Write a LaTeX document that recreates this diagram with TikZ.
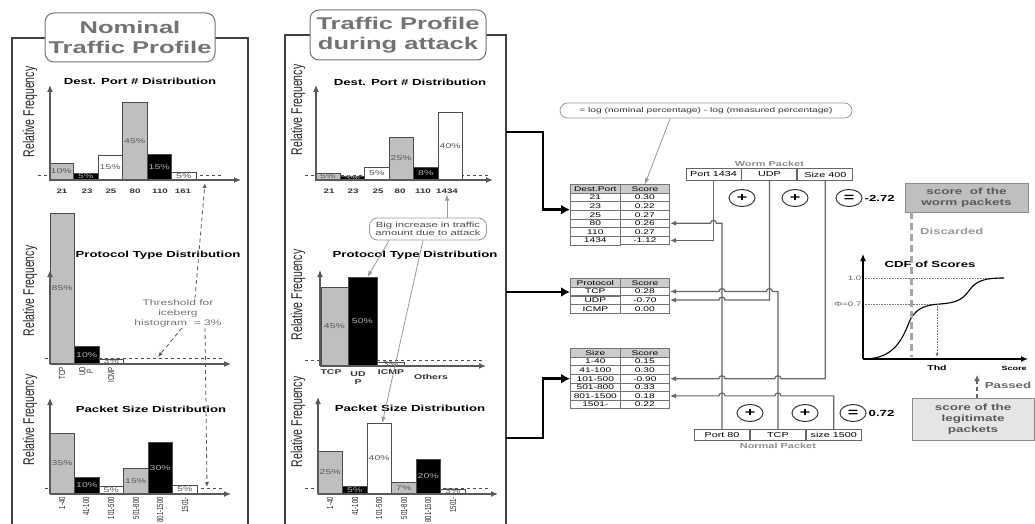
\documentclass[tikz,border=0pt]{standalone}
\usepackage{fontspec}
\setmainfont{Liberation Sans}[FakeStretch=1.5]
\newfontfamily\narrowfont{Liberation Sans}[FakeStretch=0.68]
\usetikzlibrary{arrows.meta,positioning,calc,matrix,shapes.geometric}
\newcommand\fs[1]{\fontsize{#1}{#1}\selectfont}

\begin{document}
\begin{tikzpicture}[x=1pt,y=-1pt,>=Latex,
  every node/.style={inner sep=1pt},
  frame/.style={draw=black!75,line width=1.3pt},
  titlebox/.style={draw=black!55,fill=white,rounded corners=9pt,line width=1pt,align=center,
    font=\fontsize{17}{19.5}\selectfont\bfseries,text=black!55,minimum width=170pt,minimum height=49pt},
  relfreq/.style={rotate=90,font=\narrowfont\fs{15.5},text=black!85},
  histtitle/.style={font=\fs{8.8}\bfseries},
  axis/.style={draw=black!65,line width=1.2pt,-{Latex[length=7pt,width=6pt]}},
  thline/.style={draw=black!70,dashed,line width=0.5pt},
  gbar/.style={draw=black!70,fill=black!25,line width=0.9pt},
  kbar/.style={draw=black!70,fill=black,line width=0.9pt},
  wbar/.style={draw=black!70,fill=white,line width=0.9pt},
  pct/.style={font=\fs{7},inner sep=0pt},
  tick/.style={font=\fs{6.5}\bfseries,text=black!80},
  rtick/.style={rotate=90,anchor=east,font=\narrowfont\fontsize{8.8}{7.5}\selectfont,text=black!85,inner sep=0pt,align=center},
  htick/.style={font=\fontsize{7}{8}\selectfont\bfseries,text=black!80,align=center,inner sep=0pt},
  note/.style={draw=black!40,line width=0.8pt,-{Latex[length=6pt,width=4.5pt]}},
  callout/.style={draw=black!40,line width=0.8pt,rounded corners=8pt,align=center,
    font=\fontsize{7.5}{8.5}\selectfont,text=black!70},
  thrtext/.style={align=center,font=\fontsize{8}{10}\selectfont,text=black!55},
  thrarrow/.style={draw=black!65,line width=0.8pt,dash pattern=on 4pt off 3pt,-{Latex[length=5pt,width=4pt]}},
  bigarrow/.style={draw=black,line width=2.6pt,-{Latex[length=9pt,width=10pt]}},
  tbl/.style={matrix of nodes,inner sep=0pt,column sep=-0.6pt,row sep=-0.6pt,
    nodes={draw=black!55,line width=0.6pt,minimum width=49.6pt,minimum height=8.6pt,inner sep=0pt,font=\fs{6.8}},
    row 1/.style={nodes={fill=black!20}}},
  pkt/.style={draw=black!60,line width=0.9pt,minimum width=55pt,minimum height=11.5pt,inner sep=0pt,font=\fs{7.2}},
  pktlabel/.style={font=\fs{7.3}\bfseries,text=black!45},
  op/.style={ellipse,draw=black!80,line width=1pt,minimum width=26pt,minimum height=17pt,inner sep=0pt,font=\fs{12}\bfseries},
  total/.style={font=\fs{8.8}\bfseries},
  link/.style={draw=black!60,line width=1.2pt,-{Latex[length=6pt,width=5pt]}},
  sbox/.style={draw=black!45,line width=0.8pt,align=center,font=\fontsize{9}{11}\selectfont\bfseries,text=black!65},
  cdflab/.style={font=\fs{6.5},text=black!60,inner sep=0.5pt},
  dotline/.style={draw=black!55,densely dotted,line width=0.6pt}]
\useasboundingbox (0,0) rectangle (1035,524);

% nominal profile
\draw[frame] (12,526) -- (12,38) -- (248,38) -- (248,526);
\node[titlebox] (nomtitle) at (130,37.5) {Nominal\\Traffic Profile};

\node[relfreq] (rfa) at (30,112) {Relative Frequency};
\node[histtitle] (ha) at (140,81) {Dest. Port \# Distribution};
\draw[thline] (38,175) -- (222,175);
\foreach \a/\h/\s/\c/\lab [count=\i] in {49/17/gbar/black!65/10,73.5/7/kbar/black!30/5,98/25/wbar/black!65/15,122.5/78/gbar/black!65/45,147/26/kbar/black!30/15,171.5/8/wbar/black!65/5}
  {\draw[\s] (\a,180) rectangle ++(24.5,-\h);
   \node[pct,text=\c] (pa\i) at (\a+12.25,180-\h/2) {\lab\%};}
\draw[axis] (50,180) -- (50,85);
\draw[axis] (50,180) -- (241,180);
\foreach \x/\lab [count=\i] in {62/21,87/23,111/25,135/80,160/110,183/161}
  \node[tick] (ta\i) at (\x,191) {\lab};

\node[relfreq] (rfb) at (30,291) {Relative Frequency};
\node[histtitle] (hb) at (158,255) {Protocol Type Distribution};
\draw[thline] (45,358) -- (225,358);
\foreach \a/\h/\s/\c/\lab [count=\i] in {50/151/gbar/black!65/85,74.5/18/kbar/black!30/10,99/5/wbar/black!65/3}
  {\draw[\s] (\a,364) rectangle ++(24.5,-\h);
   \node[pct,text=\c] (pb\i) at (\a+12.25,364-\h/2) {\lab\%};}
\draw[axis] (50,364) -- (50,270);
\draw[axis] (50,364) -- (231,364);
\node[rtick] (tb1) at (62,367) {TCP};
\node[rtick] (tb2) at (86,367) {UD\\P};
\node[rtick] (tb3) at (111,367) {ICMP};

\node[relfreq] (rfc) at (30,420) {Relative Frequency};
\node[histtitle] (hc) at (151,409) {Packet Size Distribution};
\draw[thline] (45,488) -- (225,488);
\foreach \a/\h/\s/\c/\lab [count=\i] in {50/61/gbar/black!65/35,74.5/17/kbar/black!30/10,99/8/wbar/black!65/5,123.5/26/gbar/black!65/15,148/52/kbar/black!30/30,172.5/9/wbar/black!65/5}
  {\draw[\s] (\a,494) rectangle ++(24.5,-\h);
   \node[pct,text=\c] (pc\i) at (\a+12.25,494-\h/2) {\lab\%};}
\draw[axis] (50,494) -- (50,398);
\draw[axis] (50,494) -- (231,494);
\foreach \x/\lab [count=\i] in {62/1-40,86/41-100,111/101-500,136/501-800,160/801-1500,185/1501-}
  \node[rtick] (tc\i) at (\x,497) {\lab};

\node[thrtext] (thr) at (178,313) {Threshold for\\iceberg\\histogram \ = 3\%};
\coordinate (tha) at (205,183);
\coordinate (thb) at (158,357);
\coordinate (thc) at (207,487);
\draw[thrarrow] ([xshift=17pt]thr.north) -- (tha);
\draw[thrarrow] ([xshift=4pt]thr.south) -- (thb);
\draw[thrarrow] ([xshift=27pt]thr.south) -- (thc);

% profile during attack
\draw[frame] (285,526) -- (285,35) -- (506,35) -- (506,526);
\node[titlebox,minimum width=176pt,minimum height=50pt] (atktitle) at (398,35) {Traffic Profile\\during attack};

\node[relfreq] (rfd) at (298,110) {Relative Frequency};
\node[histtitle] (hd) at (410,82) {Dest. Port \# Distribution};
\draw[thline] (305,175) -- (488,175);
\foreach \a/\h/\s/\c/\lab [count=\i] in {315.5/7/gbar/black!65/5,340/4/kbar/black!30/3,364.5/13/wbar/black!65/5,389/43/gbar/black!65/25,413.5/13/kbar/black!30/8,438/68/wbar/black!65/40}
  {\draw[\s] (\a,180) rectangle ++(24.5,-\h);
   \node[pct,text=\c] (pd\i) at (\a+12.25,180-\h/2) {\lab\%};}
\draw[axis] (316,180) -- (316,85);
\draw[axis] (316,180) -- (493,180);
\foreach \x/\lab [count=\i] in {329/21,353/23,378/25,400/80,423/110,447/1434}
  \node[tick] (td\i) at (\x,191) {\lab};

\node[relfreq] (rfe) at (298,295) {Relative Frequency};
\node[histtitle] (he) at (415,255) {Protocol Type Distribution};
\draw[thline] (305,360) -- (485,360);
\foreach \a/\w/\h/\s/\c/\lab [count=\i] in {321/27/79/gbar/black!65/45,348/29/89/kbar/black!30/50,377/27/4/wbar/black!65/3}
  {\draw[\s] (\a,366) rectangle ++(\w,-\h);
   \coordinate (me\i) at (\a+\w/2,366-\h);
   \node[pct,text=\c] (pe\i) at (\a+\w/2,366-\h/2) {\lab\%};}
\draw[axis] (320,366) -- (320,270);
\draw[axis] (320,366) -- (486,366);
\node[htick] (te1) at (331,372) {TCP};
\node[htick] (te2) at (358,378) {UD\\P};
\node[htick] (te3) at (391,372) {ICMP};
\node[htick] (te4) at (431,377) {Others};

\node[relfreq] (rff) at (298,422) {Relative Frequency};
\node[histtitle] (hf) at (410,408) {Packet Size Distribution};
\draw[thline] (305,488) -- (490,488);
\foreach \a/\h/\s/\c/\lab [count=\i] in {318/43/gbar/black!65/25,342.5/8/kbar/black!30/5,367/71/wbar/black!65/40,391.5/12/gbar/black!65/7,416/35/kbar/black!30/20,440.5/5/wbar/black!65/3}
  {\draw[\s] (\a,494) rectangle ++(24.5,-\h);
   \coordinate (mf\i) at (\a+12.25,494-\h);
   \node[pct,text=\c] (pf\i) at (\a+12.25,494-\h/2) {\lab\%};}
\draw[axis] (318,494) -- (318,397);
\draw[axis] (318,494) -- (498,494);
\foreach \x/\lab [count=\i] in {330/1-40,355/41-100,379/101-500,404/501-800,428/801-1500,453/1501-}
  \node[rtick] (tf\i) at (\x,497) {\lab};

\node[callout,minimum width=117pt,minimum height=22pt] (bigbox) at (428,229) {Big increase in traffic\\amount due to attack};
\draw[note] (bigbox.north -| td6) -- (td6.south);
\draw[note] ([xshift=20pt]bigbox.south west) -- ([xshift=5pt]me2);
\draw[note] ([xshift=-5pt]bigbox.south) -- ([xshift=3pt]mf3);

% score tables
\matrix (tport) [tbl,anchor=north west] at (570,184) {
  Dest.Port & Score\\ 21 & 0.30\\ 23 & 0.22\\ 25 & 0.27\\ 80 & 0.26\\ 110 & 0.27\\ 1434 & -1.12\\};
\matrix (tproto) [tbl,anchor=north west] at (570,278) {
  Protocol & Score\\ TCP & 0.28\\ UDP & -0.70\\ ICMP & 0.00\\};
\matrix (tsize) [tbl,anchor=north west] at (570,348) {
  Size & Score\\ 1-40 & 0.15\\ 41-100 & 0.30\\ 101-500 & -0.90\\ 501-800 & 0.33\\ 801-1500 & 0.18\\ 1501- & 0.22\\};

\node[callout,rounded corners=7.5pt,minimum width=292pt,minimum height=15pt,font=\fs{6.8},text=black!80] (frm) at (706,110.5) {= log (nominal percentage) - log (measured percentage)};
\draw[note] (frm.south -| tport.east) -- (tport-1-2.north);

\coordinate (oa) at (506,132);
\coordinate (ob) at (506,292);
\coordinate (oc) at (506,438);
\draw[bigarrow] (oa) -- ++(37,0) |- ([yshift=5pt]tport.west);
\draw[bigarrow] (ob) -- (ob -| tproto.west);
\draw[bigarrow] (oc) -- ++(37,0) |- (tsize.west);

% packets
\node[pkt] (wport) at (713.5,174.5) {Port 1434};
\node[pkt,right=0pt of wport] (wproto) {UDP};
\node[pkt,right=0pt of wproto] (wsize) {Size 400};
\node[pktlabel,above=1pt of wproto] (wlabel) {Worm Packet};
\node[pkt] (nport) at (722,435) {Port 80};
\node[pkt,right=0pt of nport] (nproto) {TCP};
\node[pkt,right=0pt of nproto] (nsize) {size 1500};
\node[pktlabel,below=1pt of nproto] (nlabel) {Normal Packet};

\node[op] (wplus1) at (742,198) {+};
\node[op] (wplus2) at (795,198) {+};
\node[op] (weq) at (849,198) {=};
\node[total,right=1pt of weq] (wscore) {-2.72};
\node[op] (nplus1) at (750,413) {+};
\node[op] (nplus2) at (805,413) {+};
\node[op] (neq) at (853,413) {=};
\node[total,right=1pt of neq] (nscore) {0.72};

\draw[link] (wport.south) |- (tport-7-2.east);
\draw[link] (nport.north) |- ($(wport.south |- tport-5-2.east)+(3,0)$)
  arc[start angle=0,end angle=180,radius=3pt] -- (tport-5-2.east);
\draw[link] (nproto.north) |- ($(wproto.south |- tproto-2-2.east)+(3,0)$)
  arc[start angle=0,end angle=180,radius=3pt] -- ($(nport.north |- tproto-2-2.east)+(3,0)$)
  arc[start angle=0,end angle=180,radius=3pt] -- (tproto-2-2.east);
\draw[link] (wproto.south) |- ($(nport.north |- tproto-3-2.east)+(3,0)$)
  arc[start angle=0,end angle=180,radius=3pt] -- (tproto-3-2.east);
\draw[link] (wsize.south) |- ($(nproto.north |- tsize-4-2.east)+(3,0)$)
  arc[start angle=0,end angle=180,radius=3pt] -- ($(nport.north |- tsize-4-2.east)+(3,0)$)
  arc[start angle=0,end angle=180,radius=3pt] -- (tsize-4-2.east);
\draw[link] (nsize.north) |- ($(nproto.north |- tsize-6-2.east)+(3,0)$)
  arc[start angle=0,end angle=180,radius=3pt] -- ($(nport.north |- tsize-6-2.east)+(3,0)$)
  arc[start angle=0,end angle=180,radius=3pt] -- (tsize-6-2.east);

% scores and CDF
\node[sbox,fill=black!25,minimum width=123pt,minimum height=29pt] (wbox) at (966.5,197.5) {score \ of the\\worm packets};
\node[sbox,fill=black!10,minimum width=122pt,minimum height=42pt] (nbox) at (973,419) {score of the\\legitimate\\packets};

\coordinate (cdfo) at (863,359);
\draw[dotline] (863,278) -- (1002,278);
\draw[dotline] (863,304) -- (937,304);
\draw[axis,draw=black] (cdfo) -- (863,254);
\draw[axis,draw=black] (cdfo) -- (1028,359);
\node[font=\fs{8.8}\bfseries] (cdft) at (930,264) {CDF of Scores};
\node[cdflab,left] (cone) at (862,278) {1.0};
\node[cdflab,left] (cphi) at (862,304) {Φ=0.7};
\draw[line width=1.1pt] (cdfo) .. controls (890,359) and (900,345) .. (908,325)
  .. controls (914,308) and (925,305) .. (940,304) .. controls (955,303) and (962,300) .. (968,292)
  .. controls (975,282) and (981,278) .. (1004,278);
\draw[dotline,-{Latex[length=4pt]}] (937,304) -- (937,357);
\node[font=\fs{7}\bfseries] (thd) at (937,368) {Thd};
\node[font=\fs{6}\bfseries] (sclab) at (1014,368) {Score};
\draw[draw=black!35,line width=2.5pt,dash pattern=on 7pt off 4pt] ([xshift=7pt]wbox.south west) -- ++(0,145);
\node[font=\fs{8.7}\bfseries,text=black!40,anchor=west] (disc) at (919,231) {Discarded};
\draw[draw=black!60,line width=1.2pt,dash pattern=on 4pt off 3pt,-{Latex[length=6pt,width=6pt]}] (nbox.north -| 977,0) -- (977,375);
\node[font=\fs{8.8}\bfseries,text=black!60] (plab) at (1008,385) {Passed};
\end{tikzpicture}
\end{document}
